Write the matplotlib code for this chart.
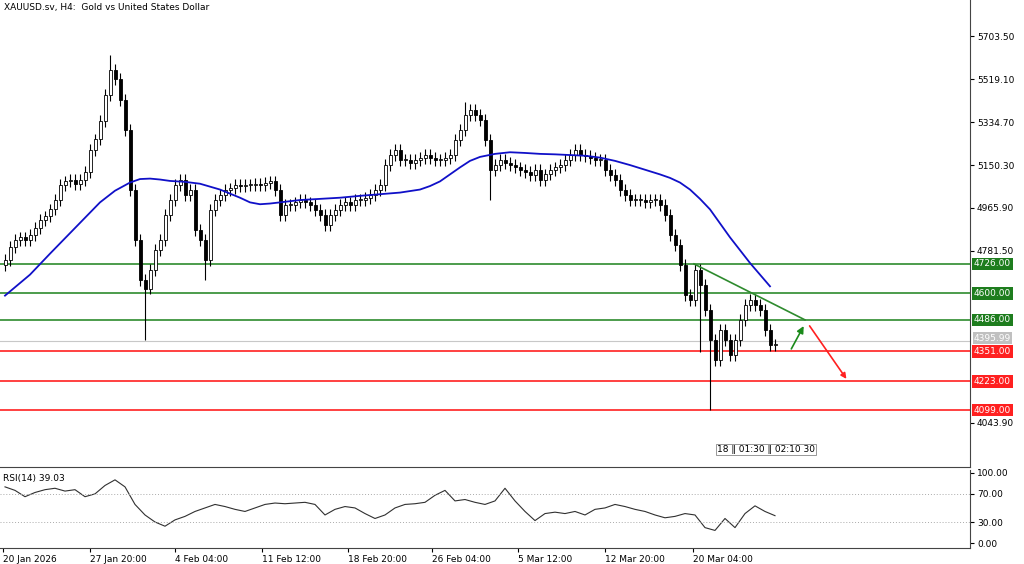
import matplotlib.pyplot as plt
import numpy as np

# H4 closes, one every candle
closes = [
    4743, 4800, 4830, 4840, 4830, 4850, 4880, 4915, 4930, 4960,
    5000, 5065, 5080, 5086, 5070, 5086, 5120, 5215, 5260, 5340,
    5450, 5558, 5520, 5429, 5300, 5043, 4829, 4657, 4620, 4700,
    4786, 4829, 4936, 5000, 5065, 5086, 5020, 5043, 4872, 4829,
    4743, 4957, 5000, 5022, 5043, 5050, 5065, 5060, 5065, 5065,
    5070, 5065, 5073, 5080, 5043, 4936, 4979, 4979, 4990, 5000,
    4990, 4979, 4957, 4936, 4893, 4936, 4957, 4979, 4990, 4979,
    5000, 5000, 5010, 5022, 5043, 5065, 5150, 5193, 5215, 5172,
    5172, 5160, 5172, 5180, 5193, 5180, 5172, 5172, 5180, 5193,
    5258, 5300, 5365, 5386, 5365, 5343, 5258, 5129, 5150, 5172,
    5160, 5150, 5140, 5129, 5120, 5107, 5129, 5086, 5110, 5129,
    5140, 5150, 5172, 5193, 5215, 5193, 5190, 5180, 5172, 5172,
    5129, 5107, 5086, 5043, 5022, 5000, 5000, 5000, 4990, 5000,
    5000, 4979, 4936, 4850, 4807, 4722, 4593, 4571, 4700, 4636,
    4529, 4400, 4314, 4443, 4400, 4335, 4400, 4486, 4550, 4571,
    4550, 4529, 4443, 4378, 4378,
]
first_open = 4720
wick = 25
# long wicks: candle index -> extreme price
spike_lows = {28: 4400, 40: 4657, 97: 5000, 141: 4099, 139: 4350}
spike_highs = {21: 5620, 92: 5420}

# 50-period moving average (index, value)
ma_idx = [0, 5, 9, 14, 19, 22, 25, 27, 29, 31, 33, 36, 39, 43, 47, 49, 51, 53, 55, 59,
          63, 67, 71, 75, 79, 83, 85, 87, 89, 91, 93, 95, 98, 101, 104, 107, 110, 113,
          116, 119, 122, 125, 128, 131, 133, 135, 137, 139, 141, 143, 145, 147, 149,
          151, 153]
ma_val = [4590, 4680, 4770, 4880, 4990, 5040, 5075, 5090, 5092, 5088, 5082, 5078, 5070,
          5045, 5010, 4990, 4982, 4985, 4990, 5000, 5005, 5010, 5018, 5025, 5032, 5045,
          5060, 5080, 5110, 5140, 5168, 5185, 5198, 5205, 5202, 5198, 5196, 5193, 5190,
          5182, 5168, 5150, 5130, 5110, 5095, 5075, 5045, 5005, 4960, 4900, 4840, 4785,
          4730, 4680, 4630]

rsi = [80, 75, 66, 72, 76, 78, 74, 76, 66, 70,
       82, 90, 80, 55, 40, 30, 24, 33, 38, 45,
       50, 55, 52, 48, 45, 50, 55, 57, 56, 57,
       58, 55, 40, 48, 52, 50, 42, 35, 40, 50,
       55, 56, 58, 68, 75, 60, 62, 58, 55, 60,
       78, 60, 45, 32, 42, 44, 42, 45, 40, 48,
       50, 55, 52, 48, 45, 40, 36, 38, 42, 40,
       22, 18, 35, 22, 42, 53, 45, 39]

green_levels = [4726, 4600, 4486]
red_levels = [4351, 4223, 4099]
last_price = 4395.99
price_ticks = [5703.50, 5519.10, 5334.70, 5150.30, 4965.90, 4781.50, 4043.90]
date_labels = ["20 Jan 2026", "27 Jan 20:00", "4 Feb 04:00", "11 Feb 12:00", "18 Feb 20:00",
               "26 Feb 04:00", "5 Mar 12:00", "12 Mar 20:00", "20 Mar 04:00"]
date_idx = [-0.4, 17, 34, 51.4, 68.6, 85.4, 102.6, 120, 137.6]
# drawn objects: trend line and scenario arrows (index, price)
trend = [(137.8, 4726), (160, 4486)]
arrow_up = [(157, 4351), (160, 4470)]
arrow_down = [(160.6, 4470), (168.6, 4223)]

W, H = 1024, 564
fig = plt.figure(figsize=(W / 100, H / 100), dpi=100)
fig.patch.set_facecolor("white")
ax = fig.add_axes([0, 1 - 467 / H, 970 / W, 467 / H])
ax2 = fig.add_axes([0, 1 - 548 / H, 970 / W, 78 / H])

xmin, xmax = -1, 193
ax.set_xlim(xmin, xmax)
ax.set_ylim(3855, 5858)

opens = [first_open] + closes[:-1]
for i, (o, c) in enumerate(zip(opens, closes)):
    hi = spike_highs.get(i, max(o, c) + wick)
    lo = spike_lows.get(i, min(o, c) - wick)
    ax.vlines(i, lo, hi, color="black", lw=0.8, zorder=3)
    body = abs(c - o) if abs(c - o) > 4 else 4
    fc = "white" if c >= o else "black"
    ax.bar(i, body, bottom=min(o, c), width=0.6, color=fc, edgecolor="black", lw=0.6, zorder=4)

ax.plot(ma_idx, ma_val, color="#1010c8", lw=1.3, zorder=5)

font = dict(family="DejaVu Sans", fontsize=6.5)
for lv in green_levels:
    ax.axhline(lv, color="#2e8b2e", lw=1.2, zorder=2)
for lv in red_levels:
    ax.axhline(lv, color="#ff2020", lw=1.2, zorder=2)
ax.axhline(last_price, color="#c8c8c8", lw=0.8, zorder=1)

ax.plot(*zip(*trend), color="#2e8b2e", lw=1.2, zorder=5)
ax.annotate("", xy=arrow_up[1], xytext=arrow_up[0],
            arrowprops=dict(arrowstyle="-|>", color="#1a8a1a", lw=1.2, mutation_scale=10))
ax.annotate("", xy=arrow_down[1], xytext=arrow_down[0],
            arrowprops=dict(arrowstyle="-|>", color="#ff2020", lw=1.2, mutation_scale=8))

ax.yaxis.tick_right()
ax.set_yticks(price_ticks)
ax.set_yticklabels([f"{p:.2f}" for p in price_ticks], **font)
ax.tick_params(axis="y", length=3, pad=2)
ax.set_xticks([])
for lv in green_levels:
    ax.text(1.004, lv, f"{lv:.2f}", transform=ax.get_yaxis_transform(), va="center",
            color="white", bbox=dict(boxstyle="square,pad=0.2", fc="#1e7d1e", ec="none"), **font)
for lv in red_levels:
    ax.text(1.004, lv, f"{lv:.2f}", transform=ax.get_yaxis_transform(), va="center",
            color="white", bbox=dict(boxstyle="square,pad=0.2", fc="#ff2020", ec="none"), **font)
ax.text(1.004, last_price + 12, f"{last_price:.2f}", transform=ax.get_yaxis_transform(),
        va="center", color="white", bbox=dict(boxstyle="square,pad=0.15", fc="#c0c0c0", ec="none"), **font)

ax.text(0.004, 0.993, "XAUUSD.sv, H4:  Gold vs United States Dollar", transform=ax.transAxes,
        va="top", **font)
ax.text(142.4, 3930, "18 ‖ 01:30 ‖ 02:10 30", fontsize=6.5, family="DejaVu Sans", va="center",
        bbox=dict(boxstyle="square,pad=0.15", fc="white", ec="#888888", lw=0.6))

for a in (ax, ax2):
    for s in ("top", "left"):
        a.spines[s].set_visible(False)
    a.spines["right"].set_color("#444444")
    a.spines["bottom"].set_color("#444444")

ax2.set_xlim(xmin, xmax)
ax2.set_ylim(-7, 104)
ax2.plot(np.arange(len(rsi)) * 2, rsi, color="#303030", lw=0.8)
for lv in (70, 30):
    ax2.axhline(lv, color="#aaaaaa", lw=0.7, ls=(0, (1, 2)))
ax2.yaxis.tick_right()
ax2.set_yticks([100, 70, 30, 0])
ax2.set_yticklabels(["100.00", "70.00", "30.00", "0.00"], **font)
ax2.tick_params(axis="y", length=3, pad=2)
ax2.set_xticks(date_idx)
ax2.set_xticklabels(date_labels, ha="left", **font)
ax2.tick_params(axis="x", length=3, pad=2)
ax2.text(0.003, 0.95, "RSI(14) 39.03", transform=ax2.transAxes, va="top", **font)

fig.savefig("out.png", dpi=100, facecolor="white")
